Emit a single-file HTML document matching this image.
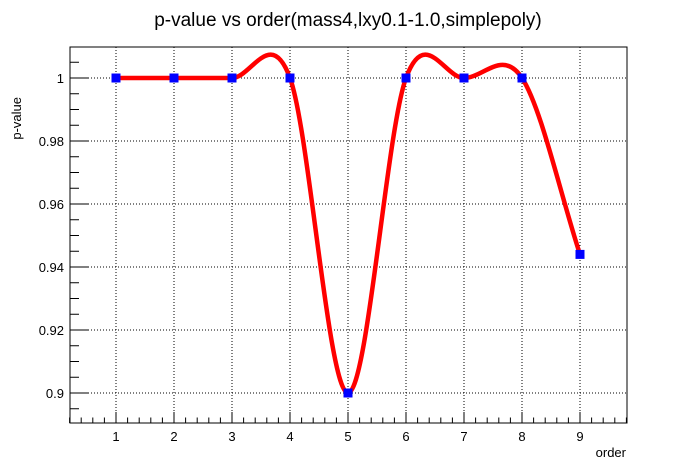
<!DOCTYPE html>
<html><head><meta charset="utf-8"><style>
body{margin:0;background:#fff}
svg{display:block;font-family:"Liberation Sans",sans-serif}
</style></head><body>
<svg id="c" width="696" height="472">
<text x="348" y="26" text-anchor="middle" font-size="19">p-value vs order(mass4,lxy0.1-1.0,simplepoly)</text>
<text x="626" y="457" text-anchor="end" font-size="13">order</text>
<text transform="translate(21,97) rotate(-90)" text-anchor="end" font-size="13">p-value</text>
<g id="grid"></g>
<g id="axes"></g>
<g id="series"></g>
</svg>
<script>
const orders=[1,2,3,4,5,6,7,8,9];
const pvalues=[1,1,1,1,0.9,1,1,1,0.944];
const xTicks=[1,2,3,4,5,6,7,8,9];
const yTicks=[0.9,0.92,0.94,0.96,0.98,1];
const yTickLabels=["0.9","0.92","0.94","0.96","0.98","1"];
const L=70,R=627,T=47,B=423;
const X=v=>116+(v-1)*58;
const Y=v=>78+(1-v)*3150;
const NS="http://www.w3.org/2000/svg";
function mk(p,tag,at){const e=document.createElementNS(NS,tag);for(const k in at)e.setAttribute(k,at[k]);p.appendChild(e);return e;}
const grid=document.getElementById('grid'),axes=document.getElementById('axes'),ser=document.getElementById('series');
xTicks.forEach(v=>{const l=mk(grid,'line',{x1:X(v),x2:X(v),y1:T,y2:B,stroke:'#000','stroke-dasharray':'1,2'});

});
yTicks.forEach(v=>{const l=mk(grid,'line',{x1:L,x2:R,y1:Y(v),y2:Y(v),stroke:'#000','stroke-dasharray':'1,2'});

});
mk(axes,'rect',{x:L,y:T,width:R-L,height:B-T,fill:'none',stroke:'#000'});
for(let i=0;;i++){const v=0.2+i*0.2;const x=X(v);if(x>R)break;const maj=Math.abs(v-Math.round(v))<1e-6;
mk(axes,'line',{x1:x,x2:x,y1:B,y2:B-(maj?11:5.5),stroke:'#000'});}
xTicks.forEach(v=>{const t=mk(axes,'text',{x:X(v),y:441,'text-anchor':'middle','font-size':13});t.textContent=v;

});
for(let i=0;;i++){const v=0.89+i*0.005;const y=Y(v);if(y<T)break;if(y>B)continue;const maj=Math.abs(v*50-Math.round(v*50))<1e-6;
mk(axes,'line',{x1:L,x2:L+(maj?18:9),y1:y,y2:y,stroke:'#000'});}
yTicks.forEach((v,i)=>{const t=mk(axes,'text',{x:L-6,y:Y(v)+5,'text-anchor':'end','font-size':13});t.textContent=yTickLabels[i];

});
// Catmull-Rom curve
const n=orders.length;const m=[];
for(let i=0;i<n;i++){const a=Math.max(0,i-1),b=Math.min(n-1,i+1);m.push((pvalues[b]-pvalues[a])/(orders[b]-orders[a]));}
let d=`M${X(orders[0])},${Y(pvalues[0])}`;
for(let i=0;i<n-1;i++){const h=orders[i+1]-orders[i];
d+=` C${X(orders[i]+h/3)},${Y(pvalues[i]+m[i]*h/3)} ${X(orders[i+1]-h/3)},${Y(pvalues[i+1]-m[i+1]*h/3)} ${X(orders[i+1])},${Y(pvalues[i+1])}`;}
const p=mk(ser,'path',{d:d,fill:'none',stroke:'#ff0000','stroke-width':4.5});


orders.forEach((o,i)=>{const r=mk(ser,'rect',{x:X(o)-4.5,y:Y(pvalues[i])-4.5,width:9,height:9,fill:'#0000ff'});

});
</script>
</body></html>
